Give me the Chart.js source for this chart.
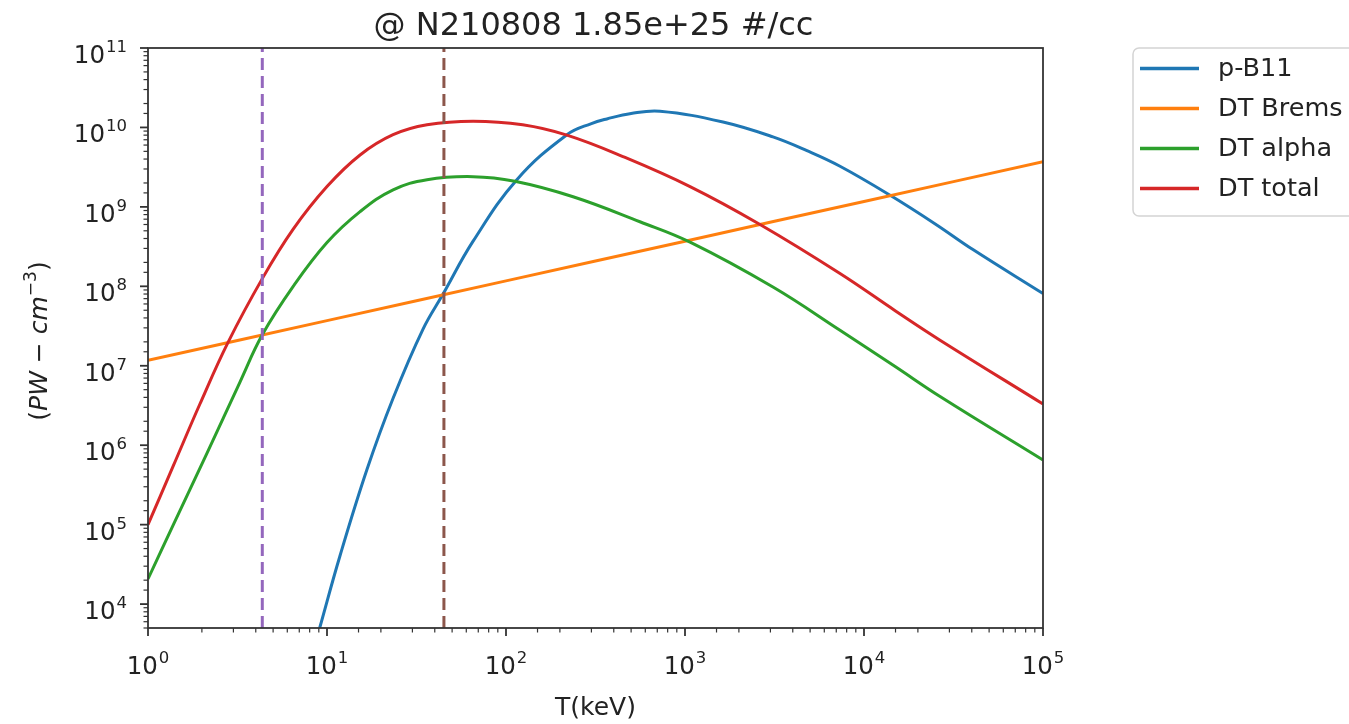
<!DOCTYPE html>
<html>
<head>
<title>@ N210808 1.85e+25 #/cc</title>
<script src="https://cdn.jsdelivr.net/npm/chart.js"></script>
<style>
  body { margin: 0; background: #fff; }
  canvas { display: block; }
</style>
</head>
<body>
<canvas id="chart" width="1349" height="724"></canvas>
<script>
// values: T in keV, power density in PW-cm^-3
const tempPB11 = [9.1, 11.8, 16.7, 23.4, 34.4, 44.5, 65.5, 115, 219, 300, 366, 500, 725, 1630, 3100, 4800, 7345, 14000, 25000, 40600, 100000];
const powPB11  = [5.0e3, 4.0e4, 4.9e5, 3.9e6, 2.9e7, 8.0e7, 3.7e8, 2.2e9, 8.1e9, 1.12e10, 1.28e10, 1.5e10, 1.6e10, 1.17e10, 7.6e9, 5.1e9, 3.25e9, 1.4e9, 6.1e8, 2.9e8, 8.1e7];

const tempBrems = [1, 10, 100, 1000, 10000, 100000];
const powBrems  = [1.17e7, 3.7e7, 1.17e8, 3.7e8, 1.17e9, 3.7e9];

const tempAlpha = [1, 1.38, 2.14, 3.26, 4.35, 6.46, 10, 15.3, 23.4, 36.2, 65.5, 112, 237, 560, 1067, 3100, 7345, 15000, 26600, 100000];
const powAlpha  = [2.07e4, 9.8e4, 8.0e5, 6.2e6, 2.45e7, 9.9e7, 3.55e8, 8.7e8, 1.64e9, 2.2e9, 2.4e9, 2.1e9, 1.34e9, 6.5e8, 3.6e8, 9.8e7, 2.8e7, 9.7e6, 4.1e6, 6.5e5];

const tempTotal = [1, 1.38, 1.95, 2.8, 4.35, 6.46, 10, 15.3, 23.4, 36.2, 65.5, 124, 219, 450, 1067, 2625, 7345, 15000, 26600, 100000];
const powTotal  = [1.0e5, 5.4e5, 3.3e6, 1.97e7, 1.25e8, 5.2e8, 1.8e9, 4.5e9, 8.1e9, 1.08e10, 1.2e10, 1.08e10, 8.0e9, 4.3e9, 1.8e9, 6.0e8, 1.45e8, 4.9e7, 2.1e7, 3.3e6];

// dashed markers
const markerTemps = [4.35, 45];

const xRange = [1, 1e5];
const yRange = [5e3, 1e11];
const xTickExps = [0, 1, 2, 3, 4, 5];
const yTickExps = [4, 5, 6, 7, 8, 9, 10, 11];

const titleText = '@ N210808 1.85e+25 #/cc';
const xLabel = 'T(keV)';

const FONT = '"DejaVu Sans", sans-serif';
const INK = '#222';

function pts(xs, ys) {
  return xs.map((x, i) => ({ x: x, y: ys[i] }));
}

function curve(label, xs, ys, color, order) {
  return {
    label: label, data: pts(xs, ys), borderColor: color, backgroundColor: color,
    borderWidth: 3, pointRadius: 0, tension: 0.4, fill: false, order: order
  };
}

function marker(t, color) {
  return {
    label: '', data: [{ x: t, y: yRange[0] }, { x: t, y: yRange[1] }],
    borderColor: color, borderWidth: 3, borderDash: [12, 6], pointRadius: 0, fill: false, order: 0
  };
}

const datasets = [
  curve('p-B11', tempPB11, powPB11, '#1f77b4', 4),
  curve('DT Brems', tempBrems, powBrems, '#ff7f0e', 3),
  curve('DT alpha', tempAlpha, powAlpha, '#2ca02c', 2),
  curve('DT total', tempTotal, powTotal, '#d62728', 1),
  marker(markerTemps[0], '#9467bd'),
  marker(markerTemps[1], '#8c564b')
];

function powLabel(ctx, exp, x, yBase, anchor) {
  const base = `24.5px ${FONT}`, sup = `16.5px ${FONT}`;
  ctx.font = base;
  const wb = ctx.measureText('10').width;
  ctx.font = sup;
  const we = ctx.measureText(String(exp)).width;
  const w = wb + 1 + we;
  const left = anchor === 'center' ? x - w / 2 : x - w;
  ctx.textAlign = 'left';
  ctx.textBaseline = 'alphabetic';
  ctx.font = base;
  ctx.fillText('10', left, yBase);
  ctx.font = sup;
  ctx.fillText(String(exp), left + wb + 1, yBase - 11);
}

// matplotlib-like frame, ticks, labels and legend
const mplAxes = {
  id: 'mplAxes',
  afterDraw(chart) {
    const ctx = chart.ctx;
    const a = chart.chartArea;
    const xs = chart.scales.x, ys = chart.scales.y;
    ctx.save();

    ctx.strokeStyle = '#333';
    ctx.lineWidth = 1.8;
    ctx.strokeRect(a.left, a.top, a.right - a.left, a.bottom - a.top);

    const isMajor = v => Math.abs(Math.log10(v) - Math.round(Math.log10(v))) < 1e-9;
    xs.ticks.forEach(t => {
      const px = xs.getPixelForValue(t.value);
      const len = isMajor(t.value) ? 8 : 4.5;
      ctx.lineWidth = isMajor(t.value) ? 1.8 : 1.2;
      ctx.beginPath(); ctx.moveTo(px, a.bottom); ctx.lineTo(px, a.bottom + len); ctx.stroke();
    });
    ys.ticks.forEach(t => {
      const py = ys.getPixelForValue(t.value);
      const len = isMajor(t.value) ? 8 : 4.5;
      ctx.lineWidth = isMajor(t.value) ? 1.8 : 1.2;
      ctx.beginPath(); ctx.moveTo(a.left, py); ctx.lineTo(a.left - len, py); ctx.stroke();
    });

    ctx.fillStyle = INK;
    xTickExps.forEach(e => powLabel(ctx, e, xs.getPixelForValue(Math.pow(10, e)), a.bottom + 46, 'center'));
    yTickExps.forEach(e => powLabel(ctx, e, 127, ys.getPixelForValue(Math.pow(10, e)) + 15, 'right'));

    const cx = (a.left + a.right) / 2;
    ctx.textAlign = 'center';
    ctx.font = `32px ${FONT}`;
    ctx.fillText(titleText, cx - 2, 35);
    ctx.font = `25px ${FONT}`;
    ctx.fillText(xLabel, cx, 715);

    // y label: (PW - cm^-3) in mathtext style
    const parts = [
      ['(', `25px ${FONT}`, 0], ['PW', `oblique 25px ${FONT}`, 0], [' \u2212 ', `25px ${FONT}`, 0],
      ['cm', `oblique 25px ${FONT}`, 0], ['\u22123', `17px ${FONT}`, 11], [')', `25px ${FONT}`, 0]
    ];
    let total = 0;
    parts.forEach(p => { ctx.font = p[1]; total += ctx.measureText(p[0]).width; });
    ctx.translate(47, (a.top + a.bottom) / 2 + 3);
    ctx.rotate(-Math.PI / 2);
    ctx.textAlign = 'left';
    let off = -total / 2;
    parts.forEach(p => { ctx.font = p[1]; ctx.fillText(p[0], off, -p[2]); off += ctx.measureText(p[0]).width; });
    ctx.setTransform(1, 0, 0, 1, 0, 0);

    // legend
    const items = chart.data.datasets.filter(d => d.label);
    const lx = 1133, ly = 48, lh = 168;
    ctx.beginPath();
    ctx.roundRect(lx, ly, 260, lh, 6);
    ctx.fillStyle = 'rgba(255,255,255,0.8)';
    ctx.fill();
    ctx.strokeStyle = '#d4d4d4';
    ctx.lineWidth = 1.5;
    ctx.stroke();
    ctx.font = `25.5px ${FONT}`;
    ctx.textAlign = 'left';
    ctx.textBaseline = 'middle';
    items.forEach((d, i) => {
      const ry = 68.5 + i * 40;
      ctx.strokeStyle = d.borderColor;
      ctx.lineWidth = 3.5;
      ctx.beginPath(); ctx.moveTo(1140, ry); ctx.lineTo(1199, ry); ctx.stroke();
      ctx.fillStyle = INK;
      ctx.fillText(d.label, 1218, ry + 1);
    });
    ctx.restore();
  }
};

const ctx = document.getElementById('chart').getContext('2d');
new Chart(ctx, {
  type: 'line',
  data: { datasets: datasets },
  options: {
    responsive: false,
    animation: false,
    layout: { padding: { left: 0, right: 306, top: 48, bottom: 0 } },
    plugins: { legend: { display: false }, title: { display: false }, tooltip: { enabled: false } },
    scales: {
      x: {
        type: 'logarithmic', min: xRange[0], max: xRange[1],
        grid: { display: false }, border: { display: false }, ticks: { display: false },
        afterFit: s => { s.height = 96; }
      },
      y: {
        type: 'logarithmic', min: yRange[0], max: yRange[1],
        grid: { display: false }, border: { display: false }, ticks: { display: false },
        afterFit: s => { s.width = 148; }
      }
    }
  },
  plugins: [mplAxes]
});
</script>
</body>
</html>
